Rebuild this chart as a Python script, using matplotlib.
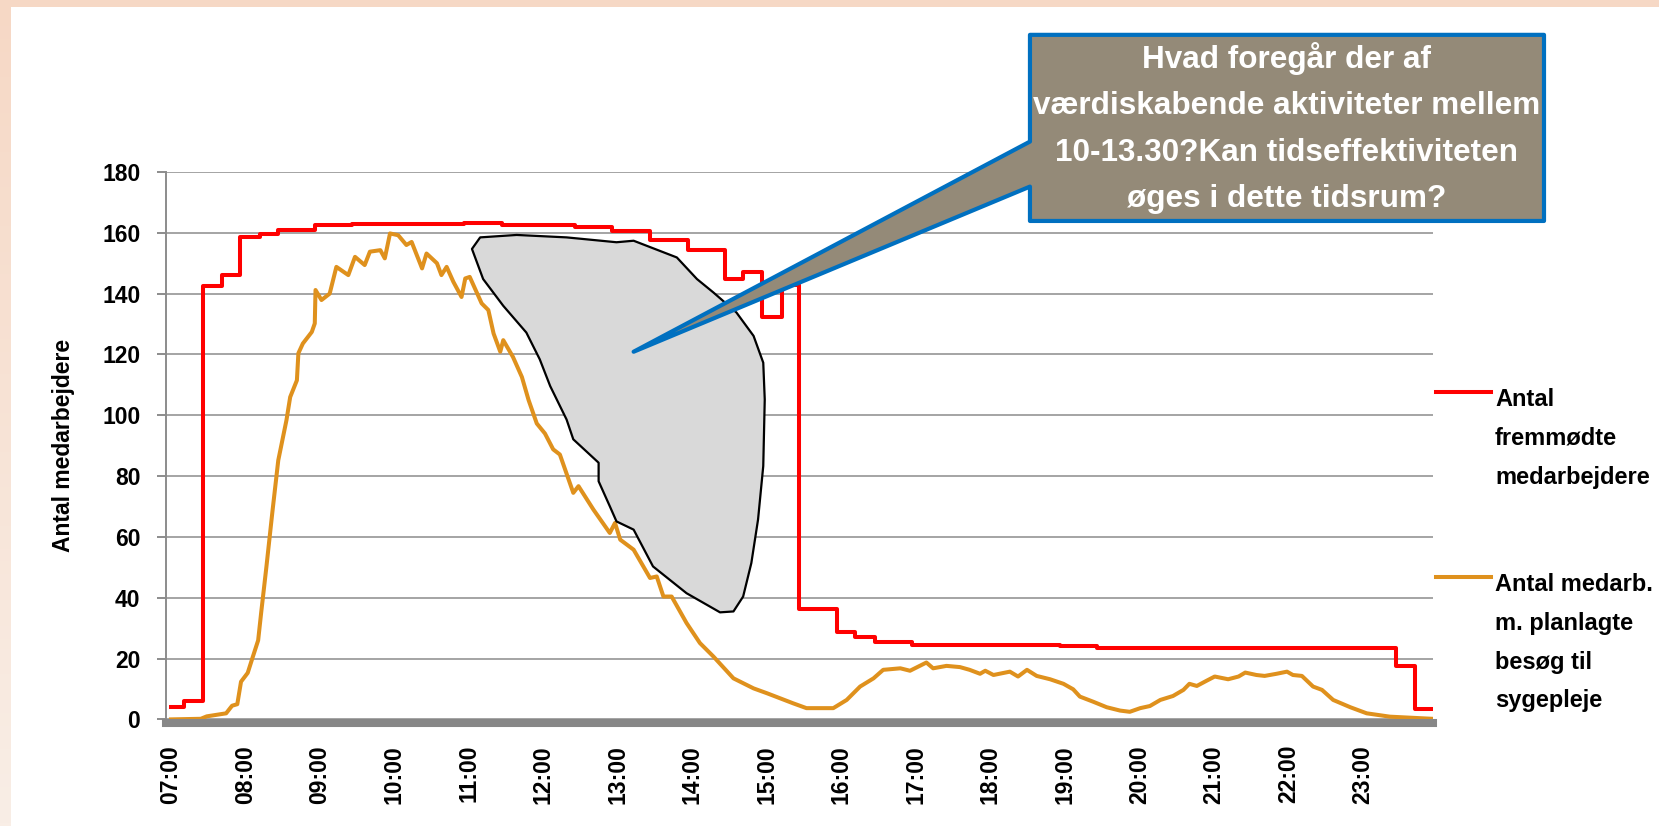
import numpy as np
import matplotlib.pyplot as plt
from matplotlib.patches import Polygon, Rectangle
from matplotlib.lines import Line2D
from matplotlib.colors import LinearSegmentedColormap

plt.rcParams['font.family'] = ['Liberation Sans', 'DejaVu Sans']
plt.rcParams['font.weight'] = 'bold'

# time of day in hours
red_t = [7.00, 7.17, 7.43, 7.68, 7.93, 8.19, 8.43, 8.93, 9.43, 10.93, 11.44,
         12.42, 12.92, 13.43, 13.94, 14.44, 14.68, 14.93, 15.20, 15.43, 15.94,
         16.18, 16.45, 16.94, 18.93, 19.43, 23.45, 23.70, 23.93]
red_v = [4.2, 6.2, 142.5, 146.0, 158.7, 159.7, 161.0, 162.5, 162.8, 163.2, 162.6,
         162.0, 160.6, 157.6, 154.3, 144.7, 147.2, 132.4, 142.8, 36.4, 28.7,
         27.0, 25.3, 24.4, 24.1, 23.4, 17.6, 3.4, 3.4]

orange_t = [7.00, 7.40, 7.48, 7.74, 7.82, 7.89, 7.94, 8.03, 8.10, 8.17, 8.21,
            8.28, 8.36, 8.44, 8.55, 8.60, 8.69, 8.71, 8.77, 8.89, 8.93, 8.94,
            9.02, 9.13, 9.22, 9.38, 9.47, 9.60, 9.67, 9.81, 9.87, 9.94, 10.05,
            10.16, 10.23, 10.37, 10.43, 10.57, 10.63, 10.70, 10.79, 10.90, 10.95,
            11.01, 11.17, 11.26, 11.33, 11.42, 11.46, 11.59, 11.71, 11.80, 11.91,
            12.02, 12.13, 12.22, 12.40, 12.47, 12.67, 12.89, 12.96, 13.03, 13.21,
            13.43, 13.52, 13.61, 13.72, 13.92, 14.10, 14.28, 14.55, 14.82, 15.00,
            15.35, 15.53, 15.89, 16.07, 16.25, 16.43, 16.56, 16.79, 16.92, 17.14,
            17.23, 17.41, 17.59, 17.72, 17.86, 17.93, 18.04, 18.26, 18.37, 18.49,
            18.62, 18.80, 18.98, 19.11, 19.20, 19.38, 19.56, 19.74, 19.87, 20.01,
            20.14, 20.28, 20.45, 20.59, 20.67, 20.77, 20.90, 21.01, 21.19, 21.33,
            21.42, 21.57, 21.68, 21.84, 21.98, 22.06, 22.18, 22.33, 22.45, 22.60,
            22.83, 23.05, 23.36, 23.93]
orange_v = [0.0, 0.2, 1.0, 2.0, 4.5, 5.0, 12.4, 15.3, 20.7, 26.0, 35.0,
            50.0, 68.0, 85.2, 98.4, 106.0, 111.5, 120.4, 123.6, 127.4, 130.2, 141.2,
            137.9, 140.0, 148.8, 146.1, 152.1, 149.4, 153.8, 154.3, 151.6, 159.8, 159.2,
            156.0, 157.0, 148.3, 153.2, 150.0, 146.1, 148.8, 143.9, 138.9, 145.0,
            145.5, 136.8, 134.6, 126.9, 120.9, 124.7, 119.2, 112.6, 105.0, 97.3,
            94.0, 88.8, 87.1, 74.5, 76.7, 69.0, 61.3, 64.6, 59.1, 55.8,
            46.5, 47.0, 40.4, 40.4, 31.7, 25.1, 20.7, 13.5, 10.2, 8.6,
            5.3, 3.7, 3.7, 6.4, 10.8, 13.5, 16.3, 16.8, 16.0, 18.7,
            16.8, 17.6, 17.2, 16.3, 15.0, 16.0, 14.6, 15.7, 14.1, 16.3,
            14.3, 13.2, 11.7, 9.9, 7.5, 5.8, 4.0, 2.9, 2.5, 3.7,
            4.4, 6.4, 7.7, 9.7, 11.7, 11.0, 12.7, 14.1, 13.2, 14.1,
            15.4, 14.6, 14.3, 15.0, 15.7, 14.6, 14.3, 10.8, 9.7, 6.4,
            4.0, 2.0, 0.9, 0.2]

hours = list(range(7, 24))
hour_labels = [f'{h:02d}:00' for h in hours]
series_names = ['Antal\nfremmødte\nmedarbejdere',
                'Antal medarb.\nm. planlagte\nbesøg til\nsygepleje']
ylabel = 'Antal medarbejdere'
callout_text = ('Hvad foregår der af\nværdiskabende aktiviteter mellem\n'
                '10-13.30?Kan tidseffektiviteten\nøges i dette tidsrum?')

# hand-drawn highlight shape (hour, value)
blob_h = [11.04, 11.15, 11.64, 12.31, 12.98, 13.21, 13.79, 14.06, 14.28, 14.59,
          14.82, 14.95, 14.97, 14.95, 14.88, 14.79, 14.68, 14.55, 14.37, 13.92,
          13.47, 13.21, 12.98, 12.89, 12.74, 12.74, 12.40, 12.31, 12.09, 11.95,
          11.77, 11.46, 11.19]
blob_v = [154.7, 158.5, 159.3, 158.5, 156.9, 157.4, 151.9, 144.8, 140.4, 133.8,
          126.1, 117.3, 105.2, 83.3, 65.7, 51.4, 40.4, 35.5, 35.2, 41.5,
          50.3, 62.4, 65.1, 70.1, 78.3, 84.4, 92.1, 98.6, 109.6, 118.4,
          127.2, 136.0, 144.8]

# callout box + tail (hour, value)
box_h = [18.53, 25.43, 25.43, 18.53, 18.53, 13.21, 18.53]
box_v = [225.1, 225.1, 163.9, 163.9, 175.2, 120.9, 190.0]

RED = '#FF0000'
ORANGE = '#DF911D'
GRID = '#8C8C8C'

W, H = 1659, 826
fig = plt.figure(figsize=(W / 100, H / 100), dpi=100)

# peach border
peach = LinearSegmentedColormap.from_list('peach', ['#F9EEE6', '#F6D8C5'])
bg = fig.add_axes([0, 0, 11 / W, 1])
bg.imshow(np.linspace(0, 1, 256).reshape(-1, 1), aspect='auto', cmap=peach,
          origin='lower', extent=[0, 1, 0, 1])
bg.axis('off')
fig.patches.append(Rectangle((0, 1 - 7 / H), 1, 7 / H, transform=fig.transFigure,
                             facecolor='#F6D8C5', edgecolor='none'))

ax = fig.add_axes([166 / W, 1 - 719.4 / H, (1433 - 166) / W, (719.4 - 172) / H])

ax.step(red_t, red_v, where='post', color=RED, lw=2.9, zorder=3)
ax.plot(orange_t, orange_v, color=ORANGE, lw=2.9, zorder=3)

ax.set_xlim(6.933, 23.94)
ax.set_ylim(0, 180)
ax.set_yticks(range(0, 181, 20))
ax.set_xticks(hours)
ax.set_xticklabels(hour_labels)
ax.yaxis.grid(True, color=GRID, lw=1.1)
ax.set_axisbelow(True)

for s in ['top', 'right']:
    ax.spines[s].set_visible(False)
ax.spines['left'].set_color(GRID)
ax.spines['left'].set_linewidth(1.4)
ax.spines['bottom'].set_color('#878787')
ax.spines['bottom'].set_linewidth(5.8)
ax.spines['bottom'].set_position(('outward', 2.9))
ax.tick_params(axis='y', length=6.5, width=1.4, color=GRID, pad=12, labelsize=16.5)
ax.tick_params(axis='x', length=0, pad=15.5, labelsize=16.5, labelrotation=90)
ax.set_ylabel(ylabel, fontsize=16.5, fontweight='bold')
ax.yaxis.set_label_coords(-0.072, 0.5)

ax.add_patch(Polygon(np.column_stack([blob_h, blob_v]), closed=True,
                     facecolor='#D9D9D9', edgecolor='black', lw=1.6, zorder=4,
                     joinstyle='round'))
ax.add_patch(Polygon(np.column_stack([box_h, box_v]), closed=True,
                     facecolor='#948A78', edgecolor='#0070C0', lw=3, zorder=5,
                     joinstyle='round', clip_on=False))
ax.text((box_h[0] + box_h[1]) / 2, (box_v[0] + box_v[2]) / 2, callout_text,
        ha='center', va='center', color='white', fontsize=22.7, fontweight='bold',
        linespacing=1.72, zorder=6, clip_on=False)

# legend on the right
for name, color, ly, ty in zip(series_names, [RED, ORANGE], [392.3, 576.7], [388.3, 573.3]):
    fig.add_artist(Line2D([1436 / W, 1491 / W], [1 - ly / H, 1 - ly / H],
                          color=color, lw=2.9, transform=fig.transFigure))
    fig.text(1495 / W, 1 - ty / H, name, ha='left', va='top', fontsize=17,
             fontweight='bold', linespacing=1.87)

fig.savefig('out.png', dpi=100)
